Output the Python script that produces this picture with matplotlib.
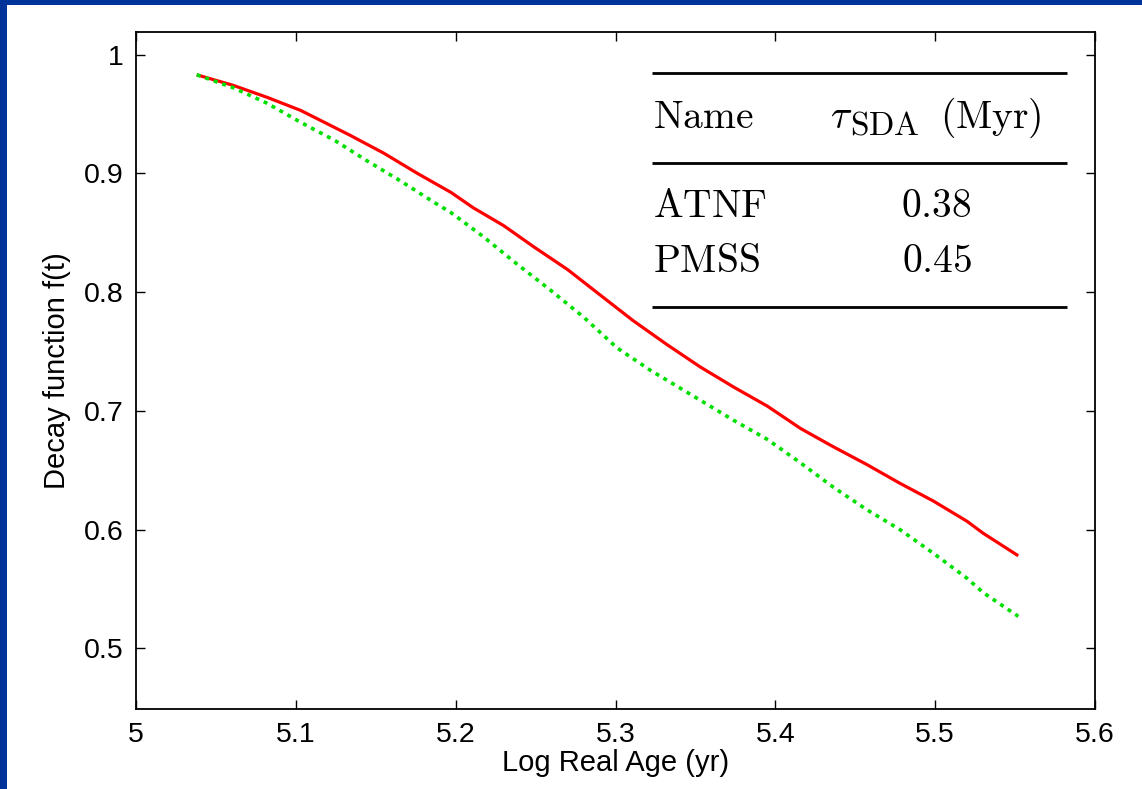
import matplotlib
matplotlib.use('Agg')
import matplotlib.pyplot as plt
from matplotlib.patches import Rectangle

plt.rcParams['font.family'] = ['Liberation Sans', 'DejaVu Sans']
plt.rcParams['mathtext.fontset'] = 'cm'

# curves
atnf_x = [5.038, 5.061, 5.082, 5.103, 5.134, 5.155, 5.176, 5.197, 5.211,
          5.230, 5.249, 5.270, 5.290, 5.311, 5.332, 5.353, 5.374, 5.395,
          5.416, 5.436, 5.457, 5.478, 5.499, 5.520, 5.530, 5.552]
atnf_y = [0.983, 0.974, 0.964, 0.953, 0.932, 0.917, 0.900, 0.884, 0.871,
          0.856, 0.838, 0.819, 0.798, 0.776, 0.756, 0.737, 0.720, 0.704,
          0.685, 0.670, 0.655, 0.639, 0.624, 0.607, 0.597, 0.578]

pmss_x = [5.038, 5.061, 5.082, 5.103, 5.124, 5.144, 5.165, 5.186, 5.197,
          5.217, 5.238, 5.259, 5.280, 5.301, 5.322, 5.332, 5.353, 5.374,
          5.395, 5.416, 5.436, 5.457, 5.478, 5.499, 5.520, 5.530, 5.552]
pmss_y = [0.983, 0.972, 0.959, 0.943, 0.928, 0.911, 0.894, 0.876, 0.867,
          0.847, 0.824, 0.802, 0.779, 0.753, 0.734, 0.726, 0.709, 0.692,
          0.676, 0.656, 0.636, 0.617, 0.600, 0.580, 0.559, 0.547, 0.527]

xticks = [5.0, 5.1, 5.2, 5.3, 5.4, 5.5, 5.6]
xticklabels = ['5', '5.1', '5.2', '5.3', '5.4', '5.5', '5.6']
yticks = [0.5, 0.6, 0.7, 0.8, 0.9, 1.0]
yticklabels = ['0.5', '0.6', '0.7', '0.8', '0.9', '1']

table_names = ['ATNF', 'PMSS']
table_tau = ['0.38', '0.45']

W, H = 1142, 789
fig = plt.figure(figsize=(W / 100, H / 100), dpi=100)
fig.patch.set_facecolor('#00339a')
fig.add_artist(Rectangle((7 / W, 0), 1 - 7 / W, 1 - 5 / H,
                         transform=fig.transFigure, facecolor='white',
                         edgecolor='none', zorder=0))

ax = fig.add_axes([136 / W, 1 - 709 / H, (1095 - 136) / W, (709 - 32) / H])
ax.set_facecolor('white')

ax.plot(atnf_x, atnf_y, color='#ff0000', lw=2.3, solid_capstyle='butt')
ax.plot(pmss_x, pmss_y, color='#00e000', lw=2.6, linestyle=(0, (1.1, 1.4)))

ax.set_xlim(5.0, 5.6)
ax.set_ylim(0.449, 1.019)
ax.set_xticks(xticks)
ax.set_xticklabels(xticklabels)
ax.set_yticks(yticks)
ax.set_yticklabels(yticklabels)
ax.tick_params(direction='in', length=6.5, width=1.0, top=True, right=True,
               labelsize=20.5, pad=9)
for s in ax.spines.values():
    s.set_linewidth(1.3)

ax.set_xlabel('Log Real Age (yr)', fontsize=21, labelpad=1)
ax.set_ylabel('Decay function f(t)', fontsize=21, labelpad=9)

# table inset
tk = dict(transform=ax.transAxes, fontsize=28.5, va='baseline')
for yv in [0.939, 0.807, 0.594]:
    ax.plot([0.5377, 0.9705], [yv, yv], color='black', lw=2.0,
            transform=ax.transAxes, solid_capstyle='butt')
ax.text(0.539, 0.858, r'$\mathrm{Name}$', ha='left', **tk)
ax.text(0.7237, 0.858, r'$\tau$', ha='left', **tk)
ax.text(0.7445, 0.848, r'$\mathrm{SDA}$', ha='left', transform=ax.transAxes,
        fontsize=24, va='baseline')
ax.text(0.838, 0.858, r'$\mathrm{(Myr)}$', ha='left', **tk)
for i, (nm, tv) in enumerate(zip(table_names, table_tau)):
    yb = 0.727 - i * 0.081
    ax.text(0.539, yb, r'$\mathrm{%s}$' % nm, ha='left', **tk)
    ax.text(0.835, yb, r'$%s$' % tv, ha='center', **tk)

fig.savefig('out.png', dpi=100, facecolor=fig.get_facecolor())
